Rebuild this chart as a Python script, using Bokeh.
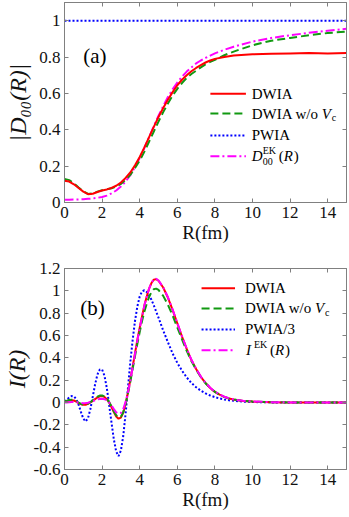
from bokeh.plotting import figure
from bokeh.models import Range1d, LinearAxis, Label, Arrow, FixedTicker
from bokeh.layouts import column
from bokeh.embed import file_html
from bokeh.resources import INLINE

# ---------------- data: panel (a) ----------------
R_a = [0.0, 0.25, 0.5, 0.75, 1.0, 1.25, 1.5, 1.75, 2.0, 2.25, 2.5, 2.75, 3.0, 3.25,
       3.5, 3.75, 4.0, 4.25, 4.5, 4.75, 5.0, 5.25, 5.5, 5.75, 6.0, 6.25, 6.5, 6.75,
       7.0, 7.25, 7.5, 7.75, 8.0, 8.5, 9.0, 10.0, 11.0, 12.0, 13.0, 14.0, 15.0]
dwia_a = [0.120, 0.115, 0.100, 0.080, 0.060, 0.046, 0.048, 0.058, 0.066, 0.072, 0.080,
          0.092, 0.110, 0.135, 0.165, 0.205, 0.250, 0.303, 0.360, 0.416, 0.470, 0.520,
          0.565, 0.607, 0.645, 0.675, 0.700, 0.722, 0.740, 0.756, 0.770, 0.781, 0.790,
          0.800, 0.808, 0.815, 0.818, 0.820, 0.822, 0.820, 0.822]
nocoul_a = [0.130, 0.123, 0.105, 0.083, 0.062, 0.047, 0.050, 0.060, 0.067, 0.072, 0.078,
            0.088, 0.102, 0.125, 0.152, 0.190, 0.230, 0.280, 0.335, 0.390, 0.445, 0.497,
            0.545, 0.588, 0.625, 0.657, 0.685, 0.707, 0.725, 0.743, 0.760, 0.773, 0.785,
            0.810, 0.830, 0.865, 0.890, 0.905, 0.920, 0.932, 0.940]
pwia_a = [1.0] * len(R_a)
ek_a = [0.015, 0.015, 0.016, 0.017, 0.018, 0.020, 0.022, 0.026, 0.030, 0.038, 0.050,
        0.066, 0.088, 0.115, 0.150, 0.195, 0.245, 0.300, 0.360, 0.420, 0.477, 0.530,
        0.580, 0.623, 0.660, 0.692, 0.720, 0.743, 0.765, 0.781, 0.795, 0.808, 0.820,
        0.840, 0.857, 0.885, 0.905, 0.920, 0.933, 0.945, 0.955]

# ---------------- data: panel (b) ----------------
R_b = [0.0, 0.125, 0.25, 0.375, 0.5, 0.625, 0.75, 0.875, 1.0, 1.125, 1.25, 1.375, 1.5,
       1.625, 1.75, 1.875, 2.0, 2.125, 2.25, 2.375, 2.5, 2.625, 2.75, 2.875, 3.0, 3.125,
       3.25, 3.375, 3.5, 3.625, 3.75, 3.875, 4.0, 4.125, 4.25, 4.375, 4.5, 4.625, 4.75,
       4.875, 5.0, 5.25, 5.5, 5.75, 6.0, 6.25, 6.5, 6.75, 7.0, 7.25, 7.5, 7.75, 8.0,
       8.25, 8.5, 8.75, 9.0, 9.5, 10.0, 11.0, 12.0, 13.0, 14.0, 15.0]
dwia_b = [0.010, 0.013, 0.018, 0.020, 0.018, 0.008, -0.005, -0.015, -0.020, -0.020,
          -0.012, 0.000, 0.015, 0.030, 0.045, 0.055, 0.057, 0.050, 0.030, 0.000, -0.040,
          -0.085, -0.125, -0.145, -0.135, -0.090, -0.010, 0.090, 0.200, 0.320, 0.440,
          0.560, 0.670, 0.770, 0.870, 0.950, 1.020, 1.070, 1.100, 1.105, 1.090,
          1.030, 0.940, 0.830, 0.710, 0.590, 0.480, 0.380, 0.300, 0.230, 0.175, 0.130,
          0.095, 0.070, 0.050, 0.036, 0.026, 0.014, 0.008, 0.002, 0.0005, 0.0, 0.0, 0.0]
nocoul_b = [0.012, 0.016, 0.022, 0.025, 0.022, 0.012, -0.002, -0.013, -0.018, -0.018,
            -0.010, 0.003, 0.020, 0.037, 0.052, 0.062, 0.063, 0.055, 0.035, 0.005, -0.035,
            -0.080, -0.115, -0.135, -0.128, -0.088, -0.015, 0.080, 0.185, 0.300, 0.415,
            0.525, 0.630, 0.730, 0.815, 0.885, 0.945, 0.990, 1.015, 1.020, 1.008,
            0.955, 0.875, 0.780, 0.672, 0.565, 0.462, 0.372, 0.295, 0.228, 0.173, 0.130,
            0.096, 0.070, 0.050, 0.036, 0.026, 0.014, 0.008, 0.002, 0.0005, 0.0, 0.0, 0.0]
pwia3_b = [0.010, 0.025, 0.045, 0.058, 0.055, 0.030, -0.020, -0.085, -0.145, -0.170,
           -0.140, -0.060, 0.050, 0.160, 0.250, 0.295, 0.295, 0.240, 0.130, -0.020, -0.180,
           -0.330, -0.440, -0.480, -0.430, -0.300, -0.100, 0.130, 0.360, 0.560, 0.730,
           0.860, 0.950, 0.995, 1.005, 0.990, 0.960, 0.920, 0.870, 0.815, 0.760,
           0.645, 0.540, 0.440, 0.355, 0.285, 0.225, 0.175, 0.137, 0.106, 0.082, 0.063,
           0.048, 0.036, 0.027, 0.020, 0.015, 0.008, 0.004, 0.001, 0.0, 0.0, 0.0, 0.0]
ek_b = [0.000, 0.000, 0.002, 0.004, 0.005, 0.004, 0.000, -0.004, -0.006, -0.005,
        -0.002, 0.004, 0.012, 0.020, 0.027, 0.032, 0.033, 0.030, 0.020, 0.000, -0.025,
        -0.058, -0.088, -0.100, -0.093, -0.058, 0.005, 0.090, 0.195, 0.315, 0.435,
        0.555, 0.665, 0.768, 0.868, 0.950, 1.020, 1.072, 1.102, 1.108, 1.093,
        1.033, 0.943, 0.833, 0.713, 0.593, 0.483, 0.383, 0.302, 0.232, 0.177, 0.132,
        0.097, 0.072, 0.052, 0.038, 0.027, 0.015, 0.009, 0.003, 0.001, 0.0, 0.0, 0.0]

x_ticks = [0, 2, 4, 6, 8, 10, 12, 14]
y_ticks_a = [0, 0.2, 0.4, 0.6, 0.8, 1.0]
y_labels_a = ["0", "0.2", "0.4", "0.6", "0.8", "1"]
y_ticks_b = [-0.6, -0.4, -0.2, 0, 0.2, 0.4, 0.6, 0.8, 1.0, 1.2]
y_labels_b = ["-0.6", "-0.4", "-0.2", "0", "0.2", "0.4", "0.6", "0.8", "1", "1.2"]

FONT = "Liberation Serif"
AX = "#808080"
RED, GREEN, BLUE, MAG = "#ff0000", "#119911", "#0000ff", "#ff00ff"
DASH_G, DASH_B, DASH_M = "8 4", "2 2", "9 3 2 3"


def style_axis(ax, ticks, labels, show_labels=True):
    ax.ticker = FixedTicker(ticks=ticks)
    ax.major_label_overrides = {t: l for t, l in zip(ticks, labels)}
    ax.axis_line_color = AX
    ax.major_tick_line_color = AX
    ax.major_tick_in = 4
    ax.major_tick_out = 0
    ax.minor_tick_line_color = None
    ax.major_label_text_font = FONT
    ax.major_label_text_color = "#111111"
    ax.axis_label_text_font = FONT
    ax.axis_label_text_color = "#111111"
    if show_labels:
        ax.major_label_text_font_size = "17px"
        ax.major_label_standoff = 4
    else:
        ax.major_label_text_font_size = "0px"
        ax.major_label_standoff = 0


def make_fig(height, yr, yt, yl, btop, bbot, ylabel, ystandoff):
    p = figure(width=349, height=height, x_range=Range1d(0, 15), y_range=yr,
               output_backend="svg", toolbar_location=None,
               min_border_left=60, min_border_right=3, min_border_top=btop,
               min_border_bottom=bbot)
    p.grid.visible = False
    p.outline_line_color = AX
    p.background_fill_color = "white"
    p.border_fill_color = "white"
    style_axis(p.xaxis[0], x_ticks, [str(t) for t in x_ticks])
    style_axis(p.yaxis[0], yt, yl)
    p.xaxis[0].axis_label = "R(fm)"
    p.xaxis[0].axis_label_text_font_size = "19px"
    p.xaxis[0].axis_label_text_font_style = "normal"
    p.xaxis[0].axis_label_standoff = 1
    p.yaxis[0].axis_label = ylabel
    p.yaxis[0].axis_label_text_font_size = "24px"
    p.yaxis[0].axis_label_text_font_style = "italic"
    p.yaxis[0].axis_label_standoff = ystandoff
    top = LinearAxis()
    style_axis(top, x_ticks, [""] * len(x_ticks), show_labels=False)
    p.add_layout(top, "above")
    right = LinearAxis()
    style_axis(right, yt, [""] * len(yt), show_labels=False)
    p.add_layout(right, "right")
    return p


def lab(p, x, y, text, size, style="normal", xo=0, yo=0):
    p.add_layout(Label(x=x, y=y, text=text, text_font=FONT, text_font_size=f"{size}px",
                       text_font_style=style, x_offset=xo, y_offset=yo,
                       text_align="left", text_baseline="middle", text_color="black"))


def leg_line(p, x0, x1, y, color, dash):
    p.add_layout(Arrow(x_start=x0, y_start=y, x_end=x1, y_end=y, start=None, end=None,
                       line_color=color, line_width=2, line_dash=dash))


# ---------------- panel (a) ----------------
pa = make_fig(254, Range1d(0, 1.1), y_ticks_a, y_labels_a, 2, 52,
              "|D\u2080\u2080(R)|", 5)
pa.line(R_a, pwia_a, line_color=BLUE, line_width=2, line_dash=DASH_B)
pa.line(R_a, ek_a, line_color=MAG, line_width=2, line_dash=DASH_M)
pa.line(R_a, nocoul_a, line_color=GREEN, line_width=2, line_dash=DASH_G)
pa.line(R_a, dwia_a, line_color=RED, line_width=2)

lab(pa, 1.0, 0.808, "(a)", 21)
rows_a = [0.598, 0.489, 0.369, 0.255]
lx0, lx1, tx = 7.76, 9.65, 9.96
leg_line(pa, lx0, lx1, rows_a[0], RED, "solid")
leg_line(pa, lx0, lx1, rows_a[1], GREEN, DASH_G)
leg_line(pa, lx0, lx1, rows_a[2], BLUE, DASH_B)
leg_line(pa, lx0, lx1, rows_a[3], MAG, DASH_M)
lab(pa, tx, rows_a[0], "DWIA", 15)
lab(pa, tx, rows_a[1], "DWIA w/o", 15)
lab(pa, tx, rows_a[1], "V", 15, "italic", xo=70)
lab(pa, tx, rows_a[1], "c", 10, xo=80, yo=-4)
lab(pa, tx, rows_a[2], "PWIA", 15)
lab(pa, tx, rows_a[3], "D", 15, "italic")
lab(pa, tx, rows_a[3], "00", 10, xo=11, yo=-5)
lab(pa, tx, rows_a[3], "EK", 10, xo=11, yo=6)
lab(pa, tx, rows_a[3], "(", 15, xo=27)
lab(pa, tx, rows_a[3], "R", 15, "italic", xo=32)
lab(pa, tx, rows_a[3], ")", 15, xo=42)

# ---------------- panel (b) ----------------
pb = make_fig(263, Range1d(-0.6, 1.2), y_ticks_b, y_labels_b, 14, 48, "I(R)", 1)
pb.line(R_b, pwia3_b, line_color=BLUE, line_width=2, line_dash=DASH_B)
pb.line(R_b, dwia_b, line_color=RED, line_width=2)
pb.line(R_b, nocoul_b, line_color=GREEN, line_width=2, line_dash=DASH_G)
pb.line(R_b, ek_b, line_color=MAG, line_width=2, line_dash=DASH_M)

lab(pb, 0.84, 0.842, "(b)", 21)
rows_b = [1.024, 0.842, 0.654, 0.469]
bx0, bx1, btx = 7.29, 9.07, 9.6
leg_line(pb, bx0, bx1, rows_b[0], RED, "solid")
leg_line(pb, bx0, bx1, rows_b[1], GREEN, DASH_G)
leg_line(pb, bx0, bx1, rows_b[2], BLUE, DASH_B)
leg_line(pb, bx0, bx1, rows_b[3], MAG, DASH_M)
lab(pb, btx, rows_b[0], "DWIA", 15)
lab(pb, btx, rows_b[1], "DWIA w/o", 15)
lab(pb, btx, rows_b[1], "V", 15, "italic", xo=70)
lab(pb, btx, rows_b[1], "c", 10, xo=80, yo=-4)
lab(pb, btx, rows_b[2], "PWIA/3", 15)
lab(pb, btx, rows_b[3], "I", 15, "italic", xo=1)
lab(pb, btx, rows_b[3], "EK", 10, xo=9, yo=6)
lab(pb, btx, rows_b[3], "(", 15, xo=25)
lab(pb, btx, rows_b[3], "R", 15, "italic", xo=30)
lab(pb, btx, rows_b[3], ")", 15, xo=40)

layout = column(pa, pb)
open("out.html", "w").write(file_html(layout, INLINE))
